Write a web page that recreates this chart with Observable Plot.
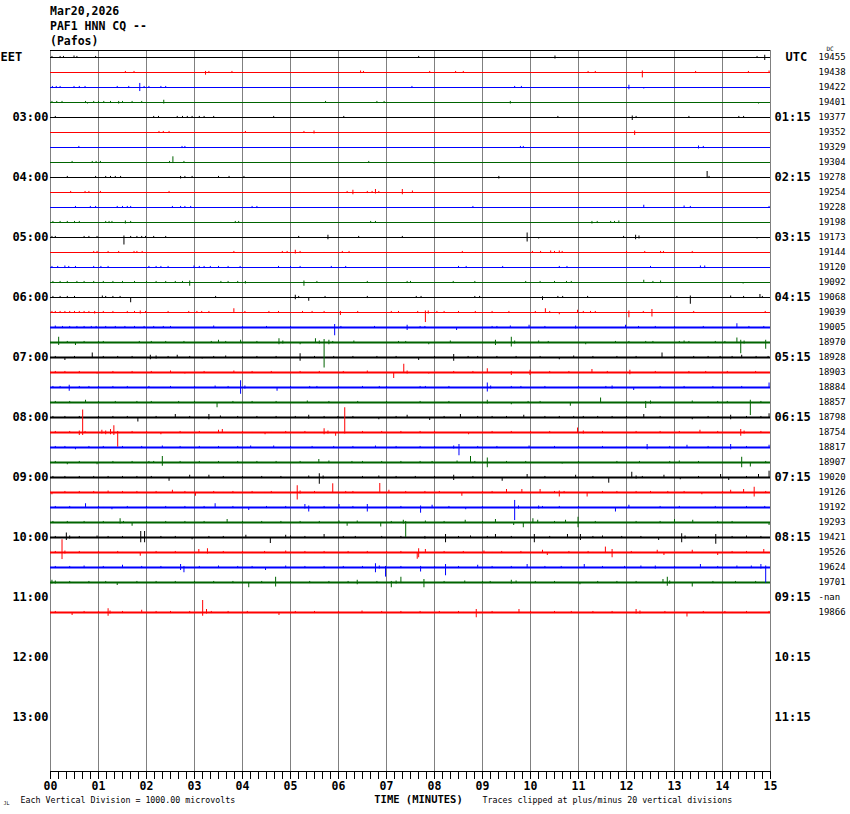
<!DOCTYPE html>
<html><head><meta charset="utf-8">
<script src="https://cdn.jsdelivr.net/npm/d3@7"></script>
<script src="https://cdn.jsdelivr.net/npm/@observablehq/plot@0.6"></script>
<style>
body{margin:0;background:#fff;width:850px;height:814px;overflow:hidden}
#hdr{height:44px;padding:4px 0 0 50px;font:bold 11.5px/15px "DejaVu Sans Mono",monospace;white-space:pre;color:#000}
#chart svg{display:block}
</style></head><body>
<div id="hdr"></div>
<div id="chart"></div>
<script>
// ---------- data ----------
const headerLines = ["Mar20,2026", "PAF1 HNN CQ --", "(Pafos)"];
const minuteTicks = [0,1,2,3,4,5,6,7,8,9,10,11,12,13,14,15];
const minuteLabels = ["00","01","02","03","04","05","06","07","08","09","10","11","12","13","14","15"];
const labelRows = [0,4,8,12,16,20,24,28,32,36,40,44];
const leftLabels = ["EET","03:00","04:00","05:00","06:00","07:00","08:00","09:00","10:00","11:00","12:00","13:00"];
const rightLabels = ["UTC","01:15","02:15","03:15","04:15","05:15","06:15","07:15","08:15","09:15","10:15","11:15"];
const rowValues = ["19455","19438","19422","19401","19377","19352","19329","19304","19278","19254","19228","19198",
  "19173","19144","19120","19092","19068","19039","19005","18970","18928","18903","18884","18857","18798","18754",
  "18817","18907","19020","19126","19192","19293","19421","19526","19624","19701","-nan","19866"];
// background noise half-amplitude per trace (vertical divisions)
const noise = [0.03,0.03,0.03,0.03,0.03,0.03,0.03,0.03,0.03,0.03,0.03,0.03,0.03,0.03,0.03,0.03,0.03,0.04,
  0.07,0.07,0.07,0.07,0.07,0.07,0.07,0.07,0.07,0.07,0.07,0.07,0.07,0.07,0.07,0.07,0.07,0.07,0,0.07];
// events per trace: [minute, up (divisions), down (divisions)]
const spikes = [
[[0.03,.07,0],[0.2,.07,.07],[0.27,.07,0],[0.49,.1,0],[0.55,.07,0],[0.94,.07,0],[7.67,.07,0],[10.51,.1,.1],[14.72,.07,0],[14.88,.15,.2]],
[[1.56,.07,0],[1.74,.07,0],[3.23,.07,.18],[3.3,.07,.07],[3.78,.07,0],[6.46,.1,.07],[6.52,.07,0],[7.9,.07,0],[8.44,.07,0],[8.6,.07,0],[11.2,.07,0],[11.35,.07,0],[12.33,.1,.36],[13.44,.07,.07],[14.54,.07,0],[14.97,.1,0]],
[[0.04,.07,.07],[0.12,.07,.07],[0.2,.07,0],[0.49,.07,.07],[0.6,.07,.07],[0.72,.07,.07],[1.39,.07,0],[1.63,.07,.07],[1.86,.27,.27],[1.95,.07,.07],[2.05,.07,0],[2.3,.07,0],[2.4,.07,0],[7.53,.07,0],[9.67,.07,0],[9.81,.07,0],[12.05,.15,.15],[12.36,0,.1]],
[[0.03,.07,0],[0.13,.07,0],[0.24,.07,0],[0.73,.07,.07],[0.77,0,.1],[0.9,.07,0],[1.0,.07,0],[1.11,.07,0],[1.25,.07,0],[1.42,.07,.1],[1.5,.07,0],[1.7,.07,0],[1.9,.07,0],[2.36,.15,.1],[5.73,.07,0],[6.8,.07,.07],[6.95,.07,.07],[9.58,.07,.1],[14.75,0,.1]],
[[0.1,.07,0],[2.15,.07,0],[2.25,.07,0],[2.64,.07,0],[2.75,.07,0],[2.85,.07,0],[2.95,.07,0],[3.1,.07,0],[3.2,.07,0],[3.4,.07,0],[4.65,.07,0],[6.11,.07,0],[10.57,.07,0],[12.12,.1,.2],[12.2,.07,.07],[13.3,.07,0],[14.34,.07,0],[14.44,.07,0]],
[[2.26,.07,0],[2.35,.07,0],[2.47,.07,0],[4.06,.07,0],[5.28,.07,0],[5.49,.1,.1],[12.17,.1,.2]],
[[0.59,.07,0],[2.74,.07,.07],[2.8,.07,.07],[9.79,.07,.07],[9.85,.07,.07],[13.5,.1,.1],[13.6,.07,.07]],
[[0.45,.07,0],[0.87,.07,0],[0.95,.07,0],[1.04,.07,0],[2.48,.07,.07],[2.55,.38,.07],[2.78,.07,0],[6.63,.07,0],[7.99,0,.1]],
[[0.35,.07,0],[0.94,.07,0],[1.15,.07,0],[1.25,.07,0],[1.35,.07,0],[1.46,.07,0],[2.71,.07,.1],[2.8,.07,.07],[2.95,.07,0],[3.5,.07,0],[3.72,.07,0],[4.03,.07,0],[9.34,.07,.1],[13.68,.4,.07],[13.72,.07,.07]],
[[0.42,.07,0],[0.72,.07,.07],[0.8,.07,0],[1.04,.07,0],[2.47,.07,0],[6.18,.07,0],[6.3,.15,.15],[6.6,.07,.07],[6.7,.07,0],[6.77,.2,.1],[6.84,.07,0],[7.33,.2,.15],[7.54,.1,0]],
[[0.52,.07,0],[0.83,.07,.07],[0.94,.07,0],[1.39,.07,0],[1.5,.07,0],[1.6,.07,0],[1.67,.07,0],[2.54,.07,0],[2.71,.07,0],[2.8,.07,0],[2.92,.07,0],[4.2,.07,.07],[4.3,.07,.07],[8.8,.07,0],[12.36,.15,0],[12.43,0,.07],[13.2,.1,0],[13.33,.07,.07],[14.97,.07,0]],
[[0.05,.07,0],[0.2,.07,0],[0.35,.07,0],[0.5,.07,.07],[0.6,.07,0],[1.15,.07,0],[1.22,.07,.07],[1.28,.07,0],[1.56,.1,.1],[1.67,.07,0],[3.85,.07,.07],[3.92,.07,0],[6.67,.07,0],[6.77,.07,0],[11.28,.07,.1],[11.39,.07,.07],[11.67,.07,0],[11.75,.07,0],[11.84,.1,.07]],
[[0.03,.07,0],[0.1,.07,0],[0.7,.07,0],[0.8,.07,0],[0.97,.07,0],[1.53,.1,.5],[1.67,.07,0],[1.8,.07,0],[1.9,.07,0],[1.98,.07,0],[2.15,.07,0],[2.4,.07,0],[5.17,.07,0],[5.78,.15,.15],[6.42,.07,0],[7.33,.07,0],[9.93,.3,.3],[10.17,0,.1],[11.94,.07,0],[12.19,.15,.15],[12.26,.1,.1],[14.72,0,.1]],
[[0.9,.07,0],[0.97,.07,0],[1.2,.07,0],[1.42,.07,0],[1.74,.07,.07],[1.8,.07,0],[1.91,.07,0],[3.82,.07,0],[4.83,.07,0],[4.93,.07,0],[5.1,.15,.1],[5.2,.07,.07],[6.08,.07,0],[6.22,.07,0],[8.58,.07,0],[10.04,.07,0],[10.21,.07,0],[10.42,.1,.07],[10.5,.07,.07],[10.6,.1,.07],[10.66,.07,0],[12.0,.07,0],[12.38,.07,0],[12.71,.07,.07],[12.77,.07,.07],[13.37,.07,.07]],
[[0.03,.07,.07],[0.15,.07,0],[0.3,.1,.07],[0.38,.07,0],[0.52,.07,0],[0.9,.07,0],[1.05,.07,0],[1.2,.07,0],[2.05,.07,0],[2.2,.07,0],[2.3,.07,0],[2.45,.07,0],[2.99,.1,.07],[3.1,.07,.07],[3.2,.07,.07],[3.33,.07,0],[3.5,.07,0],[3.7,.07,0],[3.95,.07,0],[4.75,.07,0],[5.0,.07,0],[5.2,.07,0],[5.85,.07,0],[6.15,.07,0],[8.5,.07,0],[8.66,.07,.07],[9.42,.07,0],[10.6,.07,0],[10.76,.07,.07],[12.5,.07,0],[13.54,.1,.07],[13.63,.1,.07]],
[[0.05,.07,.07],[0.2,.07,0],[0.35,.07,.07],[0.55,.07,0],[0.7,.07,0],[0.9,.07,.07],[1.1,.07,0],[1.3,.07,0],[1.5,.07,.07],[1.75,.07,0],[2.0,.07,0],[2.2,.07,0],[2.4,.07,.07],[2.6,.07,0],[2.75,.07,0],[2.9,.1,.25],[3.55,.07,0],[3.7,.07,0],[3.9,.07,0],[4.06,.07,.1],[5.28,.1,.25],[5.55,.07,0],[6.6,.07,0],[7.43,.07,.07],[7.5,.07,0],[8.39,.07,.07],[8.84,.07,.07],[9.9,.07,0],[10.2,.07,0],[10.5,.07,0],[10.75,.07,0],[10.85,.07,0],[12.36,.15,0],[12.55,.07,0],[12.71,.1,.07],[14.43,0,.1]],
[[0.05,.07,0],[0.2,.07,0],[0.35,.07,.07],[0.5,.07,0],[1.08,.1,0],[1.15,.07,0],[1.3,.07,0],[1.45,.07,0],[1.67,0,.35],[3.44,.07,.07],[5.1,.15,.15],[5.17,.07,.07],[5.38,0,.25],[5.72,.07,0],[6.6,.07,.07],[7.62,.07,0],[7.72,.07,0],[8.84,.07,0],[8.94,.07,0],[10.25,.05,.2],[10.57,.07,0],[10.67,.07,0],[11.19,.07,0],[13.05,.07,0],[13.33,.1,.45],[14.17,.1,0],[14.44,.07,.07],[14.78,.2,0],[14.83,.07,0]],
[[0.03,.07,0],[0.1,.07,.07],[0.2,.07,0],[0.3,.07,.07],[0.4,.07,0],[0.5,.07,.07],[0.6,.07,0],[0.7,.07,.07],[0.8,.07,0],[0.92,.07,.1],[1.1,.07,0],[1.3,.07,.07],[1.6,.07,.07],[1.75,.07,0],[1.87,.1,.1],[1.98,.07,0],[2.45,.07,0],[2.88,.07,0],[3.05,.07,.07],[3.15,.07,0],[3.3,.07,0],[3.82,.25,.07],[4.05,.07,.07],[4.55,.07,0],[4.75,.07,0],[5.25,.07,0],[5.45,.07,0],[5.7,.07,0],[6.04,.07,.2],[6.4,.07,0],[7.1,.07,0],[7.25,.07,0],[7.65,.07,0],[7.81,.1,.67],[7.87,.1,.1],[8.05,.07,0],[8.2,.07,0],[8.5,.07,0],[8.85,.07,.07],[9.2,.07,.07],[9.55,.07,0],[10.1,.07,.07],[10.31,.25,.07],[10.4,.07,.07],[10.6,0,.15],[10.98,.15,0],[11.1,.07,.07],[11.25,.07,0],[11.35,.07,0],[12.05,.1,.35],[12.35,.07,0],[12.53,.2,.3],[13.4,.07,.07],[14.89,.07,0]],
[[0.1,.1,.07],[0.25,.07,.07],[0.4,.07,0],[0.55,.07,.07],[0.7,.07,0],[0.85,.07,.07],[0.95,.07,.07],[1.15,.07,0],[1.35,.07,.07],[1.55,.07,0],[1.75,.07,0],[1.95,.07,.07],[2.15,.07,0],[2.35,.07,0],[2.5,.07,0],[3.4,.1,0],[4.0,.07,0],[4.5,.07,0],[5.0,.07,0],[5.92,.2,.55],[6.05,.07,.07],[6.75,.07,0],[7.43,.15,.2],[7.7,.07,.07],[7.8,.07,0],[8.46,0,.2],[9.2,.07,0],[9.3,.07,.07],[9.58,.1,0],[9.97,.15,0],[10.3,.07,0],[10.94,.1,.1],[11.98,.15,0],[12.25,.07,.07],[12.6,.07,0],[13.0,.07,0],[13.6,.07,0],[14.3,.25,0],[14.55,.07,0],[14.86,.07,0]],
[[0.17,.35,.2],[0.35,.07,0],[0.52,0,.2],[0.7,.07,0],[1.0,.07,.07],[1.1,.07,0],[1.85,.07,0],[2.1,.07,0],[2.4,.07,0],[2.78,.07,0],[3.35,.07,0],[3.5,.15,0],[3.65,.07,0],[3.96,.15,0],[4.3,.07,0],[4.76,.25,.15],[4.84,.1,.1],[5.2,0,.15],[5.52,.25,.07],[5.6,.1,.1],[5.7,.2,1.7],[5.8,.15,.15],[5.88,.07,.07],[6.32,.1,0],[7.25,.07,0],[7.4,.07,0],[7.88,0,.15],[8.33,.1,0],[9.27,.15,.2],[9.6,.35,.3],[9.67,.1,.1],[10.17,.1,0],[10.37,.07,0],[11.15,0,.15],[11.77,.07,0],[12.05,.07,0],[12.4,.07,0],[12.55,.07,0],[13.1,.07,.07],[13.2,.1,.07],[13.3,.07,0],[13.85,.07,0],[14.05,.07,0],[14.3,.3,.07],[14.38,.15,.75],[14.45,.1,.1],[14.9,.15,.45]],
[[0.1,.07,.07],[0.3,0,.2],[0.5,.07,.07],[0.87,.3,.07],[1.1,.07,.07],[1.4,.07,0],[1.7,.07,.07],[2.08,.15,.15],[2.2,.1,.1],[2.45,.07,0],[2.64,.15,0],[2.9,.07,.07],[3.16,0,.1],[3.4,.07,0],[3.65,.1,0],[4.0,.07,.07],[4.3,.07,0],[4.7,.07,.07],[5.2,.25,.25],[5.5,.07,0],[5.9,.07,.07],[6.3,.07,0],[6.8,.07,.07],[7.2,.07,0],[7.67,0,.2],[8.0,.07,.07],[8.4,.2,.25],[8.7,.07,0],[8.9,.07,.07],[9.3,.07,0],[9.7,.07,.07],[10.2,.07,0],[10.6,0,.15],[10.9,.1,0],[11.3,.07,.07],[11.8,.07,0],[12.2,.07,.07],[12.74,.3,0],[13.0,.07,.07],[13.4,.07,.07],[13.7,.07,.07],[13.95,.07,0],[14.2,.07,.07],[14.4,.15,.07],[14.7,.07,.07],[14.95,.07,0]],
[[0.1,.07,.07],[0.3,.07,0],[0.6,.07,.07],[0.97,0,.1],[1.3,.07,0],[1.7,.07,.07],[2.1,.07,0],[2.5,.1,0],[2.8,0,.1],[3.2,.07,.07],[3.82,.1,0],[4.2,.07,.07],[4.6,.07,0],[5.2,.07,.07],[5.6,.07,0],[6.1,.07,.07],[6.6,.1,0],[7.15,0,.4],[7.36,.55,.07],[7.43,.1,.1],[7.88,0,.1],[8.4,.07,.07],[8.8,.07,0],[9.1,.25,0],[9.6,.07,.2],[9.99,.15,.2],[10.4,.07,.07],[10.8,.07,0],[11.28,.2,0],[11.6,.07,.07],[12.07,.15,.15],[12.6,.07,0],[13.3,.07,.07],[13.65,.07,0],[14.1,.07,.07],[14.69,.07,0]],
[[0.05,.07,.07],[0.2,.07,.07],[0.39,.15,.25],[0.6,.07,.07],[0.8,.07,0],[1.0,.07,.07],[1.3,.07,0],[1.6,.07,.07],[2.05,.07,0],[2.5,.07,.07],[3.0,.07,0],[3.43,.1,0],[3.7,.07,.07],[3.96,.45,.45],[4.05,.1,.1],[4.72,0,.25],[5.0,.07,0],[5.4,.07,.07],[5.55,.07,0],[6.0,.07,.07],[6.5,.07,0],[6.85,.07,.07],[7.0,.07,0],[7.7,.07,.07],[7.81,.07,0],[8.3,.07,0],[9.1,.3,.3],[9.17,.1,.1],[9.6,.07,.07],[9.8,.07,0],[10.3,.07,.07],[11.0,.07,0],[11.57,.07,.07],[11.7,.1,.1],[12.15,0,.2],[12.7,.07,0],[13.2,.07,.07],[13.8,.07,0],[14.4,.07,.07],[14.97,.3,0]],
[[0.1,.07,0],[0.4,.07,.07],[0.73,.15,0],[1.0,.07,0],[1.35,.07,.07],[1.8,.07,0],[2.1,.07,0],[2.67,.07,.07],[3.0,.07,0],[3.47,0,.35],[3.8,.07,0],[4.2,.07,.07],[4.7,.07,0],[5.35,.1,0],[5.8,.07,.07],[6.4,.07,0],[7.0,.07,.07],[7.7,.07,0],[8.3,.07,0],[9.1,.15,.1],[9.6,0,.15],[9.95,.07,0],[10.2,.07,.07],[10.83,0,.25],[11.46,.3,0],[12.0,.07,0],[12.4,.07,.4],[12.5,.1,.1],[13.37,.1,0],[13.9,.07,0],[14.1,.07,.07],[14.58,.15,.87],[14.8,.07,0]],
[[0.05,.07,.07],[0.3,.07,.07],[0.6,.07,.07],[1.0,.07,.07],[1.3,.07,0],[1.6,.07,.07],[1.82,0,.3],[2.2,.07,.07],[2.6,.2,0],[2.9,.07,.07],[3.3,.2,.15],[3.54,.1,0],[3.9,.07,.07],[4.3,.07,0],[4.7,.07,.07],[5.1,.07,.07],[5.38,.15,.1],[5.7,.07,.07],[5.99,.07,0],[6.3,.07,.07],[6.84,0,.15],[7.2,.07,.07],[7.43,.15,0],[7.9,0,.2],[8.2,.07,.07],[8.54,.2,.07],[8.9,.07,.07],[9.2,.07,0],[9.5,.07,.07],[9.86,.15,0],[10.3,.07,.07],[10.6,.07,.07],[10.9,.07,0],[11.1,.07,.07],[11.4,.07,.07],[11.7,.07,.07],[12.0,.07,.07],[12.36,.2,.07],[12.7,.07,.07],[13.37,0,.15],[13.7,.07,.07],[14.17,.15,.15],[14.5,.07,.07],[14.8,.07,.07],[14.97,.25,0]],
[[0.1,.07,.07],[0.4,.07,0],[0.6,.1,.2],[0.67,1.5,.2],[0.72,.07,.07],[1.07,.15,.1],[1.15,.1,.15],[1.25,.2,.15],[1.32,.45,.2],[1.4,.07,.98],[1.7,.07,.07],[2.0,.07,.07],[2.3,0,.15],[2.7,.07,.07],[3.1,.07,0],[3.5,.15,.07],[3.58,.2,0],[4.0,.07,.07],[4.47,0,.15],[4.9,.07,.07],[5.3,.07,0],[5.7,.25,.15],[5.78,.1,.1],[5.94,0,.25],[6.13,1.65,.1],[6.5,.07,.07],[6.9,.07,0],[7.3,.07,.07],[7.7,.07,.07],[8.0,.07,0],[8.71,0,.15],[9.2,.07,.07],[9.6,.07,0],[10.0,.07,.07],[10.4,.07,.07],[10.98,.3,.07],[11.1,.1,.1],[11.5,.07,.07],[12.2,.07,0],[12.7,.07,.07],[13.1,.07,.07],[13.53,.15,.07],[13.9,.07,0],[14.38,.2,.25],[14.45,.1,.1],[14.8,.07,.07]],
[[0.1,.07,.07],[0.3,.07,0],[0.52,0,.15],[0.8,.07,.07],[1.1,.07,0],[1.5,.07,.07],[1.9,.07,.07],[2.33,.1,0],[2.7,.07,.07],[3.1,.07,0],[3.5,.07,.07],[3.9,.07,0],[4.17,.1,0],[4.65,.1,0],[5.0,.07,.07],[5.45,.07,0],[5.9,.07,.07],[6.3,.07,0],[6.77,.1,0],[7.2,.07,.07],[7.7,.07,0],[8.0,.07,.07],[8.4,.1,.1],[8.51,.2,.55],[8.9,.07,0],[9.3,.07,.07],[9.97,.1,0],[10.5,.07,.07],[11.0,.07,0],[11.5,.07,.07],[12.0,.07,0],[12.43,.2,.15],[12.9,.07,.07],[13.26,.15,0],[13.7,.07,.07],[14.17,.2,.15],[14.5,.07,0],[14.97,.15,0]],
[[0.1,.07,.07],[0.35,0,.15],[0.6,.07,0],[0.97,0,.15],[1.3,.07,.07],[1.7,.07,0],[2.05,.07,.07],[2.15,.07,0],[2.33,.4,.25],[2.7,.07,0],[3.1,.07,.07],[3.5,.07,0],[3.9,.07,.07],[4.3,.07,0],[4.7,.07,.07],[5.2,.07,0],[5.59,.2,.07],[5.8,.1,.07],[6.28,.07,.07],[6.5,.07,.07],[6.9,.07,0],[7.3,.07,.07],[7.7,.07,.07],[7.95,.07,.07],[8.47,.1,0],[8.75,.4,0],[8.84,.07,.07],[9.1,.3,.35],[9.5,.07,0],[9.9,.07,0],[10.66,0,.1],[11.0,.07,.07],[11.8,.07,.07],[12.27,.07,0],[12.9,.07,.07],[13.1,.1,.07],[13.5,.07,0],[14.4,.35,.35],[14.58,0,.3],[14.9,.07,.07]],
[[0.05,.07,.07],[0.3,.07,.07],[0.6,.07,.07],[0.9,.07,.07],[1.2,.07,.07],[1.5,.07,.07],[1.8,.07,.07],[2.1,.07,.07],[2.47,0,.25],[2.9,.15,.07],[3.3,.15,.07],[3.6,.07,.07],[4.0,.07,.07],[4.4,.07,.07],[4.8,.07,.07],[5.38,.1,.07],[5.6,.25,.45],[5.68,.1,.1],[6.0,.07,.07],[6.5,.07,.07],[6.84,.1,.07],[7.2,.07,.07],[7.6,.07,.07],[8.0,.07,.07],[8.4,.15,.2],[8.8,.07,.07],[9.41,0,.25],[9.93,.2,0],[10.3,.07,.07],[10.94,.15,.07],[11.3,.07,.07],[11.63,0,.38],[12.11,.35,.07],[12.2,.1,.1],[12.33,.07,.07],[12.78,.15,0],[13.12,0,.15],[13.5,.07,.07],[13.96,.2,0],[14.13,0,.2],[14.5,.07,.07],[14.75,.2,0],[14.97,.42,0]],
[[0.03,0,.15],[0.3,.07,.07],[0.6,.07,.07],[0.9,.07,.07],[1.2,.1,0],[1.5,.07,.07],[1.8,.07,.07],[2.2,.07,.07],[2.54,.15,0],[2.8,.07,.07],[3.02,0,.25],[3.4,.07,.07],[3.8,.07,.07],[4.2,.07,.07],[4.6,.07,.07],[5.14,.45,.5],[5.2,.1,.1],[5.5,.07,.07],[5.88,.58,.07],[6.15,.07,.07],[6.3,.07,.07],[6.86,.6,.07],[7.05,.15,.07],[7.4,.07,.07],[7.8,.07,.07],[8.1,.07,.07],[8.57,0,.25],[9.0,.07,.07],[9.2,.07,.07],[9.5,.2,.07],[9.82,.2,0],[10.2,.2,.07],[10.5,.07,.07],[10.6,.1,.3],[10.7,.07,.07],[11.18,0,.3],[11.5,.07,.07],[11.8,.07,.07],[12.2,.07,.07],[12.5,.07,.07],[12.86,.07,.07],[13.2,.07,.07],[13.57,0,.15],[14.0,.07,.07],[14.17,.15,0],[14.44,.2,.07],[14.66,.35,.3],[14.9,.07,.07]],
[[0.1,.07,.07],[0.4,.07,.07],[0.73,.25,.07],[1.0,.07,.07],[1.28,0,.15],[1.6,.07,.07],[2.0,.07,.07],[2.4,.07,.07],[2.8,.07,.07],[3.2,.07,.07],[3.43,.25,.07],[3.8,.07,.07],[4.13,0,.2],[4.5,.07,.07],[4.9,.07,.07],[5.3,.2,.1],[5.38,.1,.3],[5.7,.07,.07],[6.01,.2,.07],[6.3,.07,.07],[6.6,.2,.3],[7.0,.07,.07],[7.3,.07,.07],[7.71,.1,.38],[7.95,.15,.07],[8.3,.07,0],[8.65,0,.15],[9.0,.07,0],[9.67,.47,.87],[9.75,.1,.1],[10.17,.1,.1],[10.25,.07,.07],[10.6,.07,0],[11.0,.07,0],[11.77,0,.3],[12.05,.15,.07],[12.7,.07,0],[13.1,.07,0],[13.85,.07,0],[14.5,.07,0],[14.88,.07,0]],
[[0.05,.07,.07],[0.35,.07,.07],[0.7,.07,.07],[1.1,.07,.07],[1.45,.25,.1],[1.52,.07,.07],[1.7,0,.25],[2.0,.07,.07],[2.4,.07,.07],[2.8,.07,.07],[3.2,.07,.07],[3.68,.2,.07],[4.0,.07,.07],[4.4,.07,.07],[4.8,.07,.07],[5.2,.07,.07],[5.6,.07,.07],[6.01,.1,.07],[6.18,0,.25],[6.39,.1,0],[6.88,0,.3],[7.1,.07,.07],[7.35,.15,.1],[7.4,.07,1.0],[7.81,.1,0],[8.2,.07,.07],[8.64,.15,0],[9.0,.07,.07],[9.27,.2,0],[9.65,0,.2],[9.85,0,.35],[10.05,.25,.07],[10.15,.15,.07],[10.5,.07,.07],[10.73,.15,0],[10.99,.35,.35],[11.35,.07,.07],[12.2,.07,.07],[12.7,.07,.07],[13.0,.2,.07],[13.38,.15,0],[13.9,.07,.07],[14.2,.07,.07],[14.97,0,.2]],
[[0.1,.07,.07],[0.33,.3,.2],[0.4,.1,.1],[0.6,.07,.07],[0.97,.1,.07],[1.2,.07,.07],[1.5,.07,.07],[1.88,.4,.35],[1.96,.4,.35],[2.3,.07,.07],[2.6,.07,.07],[2.95,0,.15],[3.3,.07,.07],[3.6,.07,.07],[4.07,.15,.07],[4.58,0,.4],[4.9,.15,.07],[5.0,.1,.07],[5.3,.07,.07],[5.7,.2,.07],[6.1,.07,.07],[6.35,.07,.07],[6.9,.07,.07],[7.3,.07,.07],[7.8,.07,.1],[8.23,.2,.35],[8.5,.07,.07],[8.75,.1,.07],[9.1,.07,.07],[9.27,.2,.07],[9.6,.07,.07],[10.08,.2,.35],[10.4,.07,.07],[10.77,.2,.07],[11.04,.2,.2],[11.3,.07,.07],[11.5,.1,.07],[11.9,.07,.07],[12.3,.07,.07],[12.67,0,.2],[13.15,.25,.35],[13.22,.1,.1],[13.5,.07,.07],[13.86,.2,.45],[14.2,.07,.07],[14.5,.1,.07],[14.8,.07,.07]],
[[0.1,.07,.07],[0.24,.85,.47],[0.3,.1,.1],[0.6,.07,.07],[1.0,.07,.07],[1.4,.07,.07],[1.87,0,.25],[2.2,.07,.07],[2.6,.07,.07],[3.09,.2,.07],[3.27,.25,.1],[3.6,.07,.07],[4.0,.07,.07],[4.46,.07,.07],[4.9,.1,.07],[5.3,.07,.07],[5.7,.07,.07],[6.2,.07,.07],[6.6,.07,.07],[7.0,.07,.07],[7.3,.07,.07],[7.64,0,.45],[7.67,.25,.35],[7.81,.2,.07],[8.2,.07,.07],[8.6,.07,.07],[9.03,.1,.07],[9.4,.07,.07],[9.8,.07,.07],[10.25,.15,.07],[10.35,0,.2],[10.8,.07,.07],[11.2,.07,.07],[11.56,.36,.07],[11.7,.2,.35],[12.1,.07,.07],[12.64,.15,.07],[12.78,0,.2],[13.37,.15,.07],[13.9,0,.2],[14.2,.07,.07],[14.5,.07,.07],[14.86,.2,.07]],
[[0.1,.07,.07],[0.4,.07,.07],[0.7,.1,.07],[1.1,.07,.07],[1.5,.15,.07],[1.9,.07,.07],[2.3,.07,.07],[2.71,.2,.2],[2.78,.07,.35],[3.1,.07,.07],[3.5,.1,.07],[3.9,.07,.07],[4.2,.07,.07],[4.48,0,.2],[4.9,.1,.07],[5.3,.07,.07],[5.7,.07,.07],[6.1,.07,.07],[6.5,.07,.07],[6.77,.25,.35],[6.85,.1,.1],[6.98,.07,.64],[7.3,.07,.07],[7.71,.07,.3],[8.0,.07,.07],[8.23,.2,.55],[8.5,.07,.07],[8.9,.15,.07],[9.2,.07,.07],[9.6,.07,.07],[9.93,.2,.07],[10.3,.07,.07],[10.64,.07,.07],[11.12,.2,.07],[11.5,.07,.07],[11.96,.07,.07],[12.3,.1,.07],[12.6,.1,.1],[13.0,.07,.07],[13.54,.2,.07],[13.9,.07,.07],[14.3,.1,.07],[14.6,.1,.07],[14.8,.2,.1],[14.9,.1,1.04]],
[[0.03,.15,.1],[0.1,.1,.1],[0.4,.07,.07],[0.8,.07,.07],[1.15,.07,.07],[1.39,0,.2],[1.8,.07,.07],[2.2,.07,.07],[2.6,.07,.07],[3.0,.07,.07],[3.4,.07,.07],[3.8,.07,.07],[4.13,0,.35],[4.4,.07,.07],[4.69,.35,.3],[5.0,.07,.07],[5.4,.07,.07],[5.8,.07,.07],[6.2,.07,.07],[6.39,.15,.15],[6.8,.07,.07],[7.1,.07,.35],[7.2,.1,.1],[7.3,.35,.07],[7.78,.2,.35],[8.2,.07,.07],[8.63,.1,.07],[9.0,.07,.07],[9.16,.07,.07],[9.6,.15,.1],[9.7,.1,.07],[10.1,.07,.07],[10.5,.07,.07],[11.03,0,.15],[11.4,.07,.07],[11.8,.07,.07],[12.2,.07,.07],[12.76,.2,.07],[12.85,.35,.25],[12.9,.1,.1],[13.37,0,.3],[13.8,.07,.07],[14.27,.07,.07],[14.69,.07,.07]],
[],
[[0.1,.07,.07],[0.45,0,.2],[0.7,.07,.07],[1.0,.07,.07],[1.2,.25,.25],[1.24,.1,.1],[1.5,.07,.07],[1.9,.15,.07],[2.2,.07,.07],[2.5,.07,.07],[2.9,.07,.07],[3.17,.8,.25],[3.25,.2,.1],[3.35,.07,.07],[3.7,.07,.07],[4.1,.07,.07],[4.76,0,.2],[5.1,.07,.07],[5.5,.07,.07],[6.0,.07,.07],[6.49,.1,.07],[6.9,.07,.07],[7.3,.07,.07],[7.7,.07,.07],[8.1,.07,.07],[8.5,.07,.07],[8.87,.2,.35],[9.2,.07,.07],[9.76,.2,.07],[10.0,.07,.07],[10.5,.07,.07],[10.85,.07,.07],[11.3,.07,.07],[11.7,.07,.07],[12.2,.2,.1],[12.28,.1,.1],[12.8,.07,.07],[13.26,0,.3],[13.6,.07,.07],[14.05,.07,.07],[14.5,.07,.07],[14.97,.07,.07]]
];

// ---------- chart ----------
document.getElementById("hdr").textContent = headerLines.join("\n");
const palette = ["#000000", "#ff0000", "#0000ff", "#006400"];
const yTop = -7 / 15, yBottom = 47.6;
const minorTicks = d3.range(0, 91).map(i => i / 6);
const traceRows = d3.range(rowValues.length).filter(r => rowValues[r] !== "-nan");
const events = spikes.flatMap((list, row) => list.map(([t, up, down]) => ({row, t, up, down})));
const labelData = labelRows.map((row, i) => ({row, left: leftLabels[i], right: rightLabels[i]}));
const valueData = rowValues.map((v, row) => ({row, v}));
const mono = "DejaVu Sans Mono";

const chart = Plot.plot({
  width: 850, height: 766,
  marginLeft: 50, marginRight: 80, marginTop: 2, marginBottom: 43,
  x: {domain: [0, 15], range: [50, 770]},
  y: {domain: [yTop, yBottom], range: [2, 723], axis: null},
  color: {type: "identity"},
  style: {background: "#fff", overflow: "visible"},
  marks: [
    Plot.ruleX(minuteTicks, {x: d => d, y1: yTop, y2: yBottom, stroke: "#808080"}),
    Plot.ruleY([yTop], {x1: 0, x2: 15, stroke: "#000"}),
    Plot.ruleY(traceRows, {y: d => d, x1: 0, x2: 15, stroke: d => palette[d % 4],
      strokeWidth: d => Math.max(1, Math.round(2 * noise[d] * 15))}),
    Plot.ruleX(events, {x: "t", y1: d => d.row - d.up, y2: d => d.row + d.down, stroke: d => palette[d.row % 4]}),
    Plot.ruleY([yBottom], {x1: 0, x2: 15, stroke: "#000"}),
    Plot.axisX(minorTicks, {anchor: "bottom", tickSize: 8, tickFormat: () => "", label: null}),
    Plot.axisX(minuteTicks, {anchor: "bottom", tickSize: 8, tickPadding: 2, label: null,
      tickFormat: d => minuteLabels[minuteTicks.indexOf(d)],
      fontFamily: mono, fontWeight: "bold", fontSize: 11.5, fill: "#000"}),
    // left time labels
    Plot.text(labelData.slice(1), {x: 0, y: "row", text: "left", textAnchor: "end", dx: -2,
      fontFamily: mono, fontWeight: "bold", fontSize: 12}),
    Plot.text(labelData.slice(0, 1), {x: 0, y: "row", text: "left", textAnchor: "start", dx: -50,
      fontFamily: mono, fontWeight: "bold", fontSize: 12}),
    // right time labels
    Plot.text(labelData.slice(1), {x: 15, y: "row", text: "right", textAnchor: "start", dx: 4,
      fontFamily: mono, fontWeight: "bold", fontSize: 12}),
    Plot.text(labelData.slice(0, 1), {x: 15, y: "row", text: "right", textAnchor: "start", dx: 15,
      fontFamily: mono, fontWeight: "bold", fontSize: 12}),
    Plot.text(valueData, {x: 15, y: "row", text: "v", textAnchor: "start", dx: 48,
      fontFamily: mono, fontSize: 9}),
    Plot.text(["DC"], {x: 15, y: 0, textAnchor: "start", dx: 56, dy: -8, fontFamily: mono, fontSize: 6}),
    // footer
    Plot.text(["TIME (MINUTES)"], {frameAnchor: "bottom", dx: 8, dy: 31,
      fontFamily: mono, fontWeight: "bold", fontSize: 10.5}),
    Plot.text(["Each Vertical Division = 1000.00 microvolts"], {frameAnchor: "bottom-left", textAnchor: "start",
      dx: -30, dy: 31, fontFamily: mono, fontSize: 8.3}),
    Plot.text(["Traces clipped at plus/minus 20 vertical divisions"], {frameAnchor: "bottom-left", textAnchor: "start",
      dx: 432, dy: 31, fontFamily: mono, fontSize: 8.3}),
    Plot.text(["JL"], {frameAnchor: "bottom-left", textAnchor: "start", dx: -47, dy: 33, fontFamily: mono, fontSize: 5})
  ]
});
document.getElementById("chart").appendChild(chart);
</script>
</body></html>
